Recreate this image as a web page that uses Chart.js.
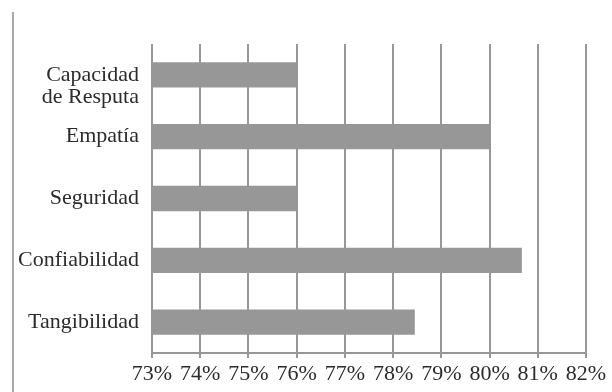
<!DOCTYPE html>
<html>
<head>
<meta charset="utf-8">
<script src="https://cdn.jsdelivr.net/npm/chart.js@4.4.1/dist/chart.umd.min.js"></script>
<style>
html,body{margin:0;padding:0;background:#fff;}
#wrap{position:absolute;left:0;top:0;width:612px;height:392px;}
#edge{position:absolute;left:12px;top:12px;width:2px;height:380px;background:#aaa;}
</style>
</head>
<body>
<div id="wrap"><canvas id="c" width="612" height="392"></canvas></div>
<div id="edge"></div>
<script>
const categories = [["", "Capacidad", "de Resputa"], "Empatía", "Seguridad", "Confiabilidad", "Tangibilidad"];
const values = [76, 80, 76, 80.67, 78.45];
const tickMin = 73;
const tickMax = 82;

const gray = '#979797';
const textColor = '#2b2b2b';
const font = {family: '"Liberation Serif", "Times New Roman", serif', size: 22, lineHeight: 1.0};

new Chart(document.getElementById('c'), {
  type: 'bar',
  data: {
    labels: categories,
    datasets: [{
      data: values,
      backgroundColor: gray,
      borderWidth: 0,
      categoryPercentage: 1,
      barPercentage: 0.41
    }]
  },
  options: {
    indexAxis: 'y',
    responsive: false,
    animation: false,
    layout: {padding: {top: 44, right: 26, left: 0, bottom: 0}},
    plugins: {legend: {display: false}, tooltip: {enabled: false}},
    scales: {
      x: {
        min: tickMin,
        max: tickMax,
        ticks: {
          stepSize: 1,
          color: textColor,
          font: font,
          padding: 5,
          maxRotation: 0,
          autoSkip: false,
          callback: v => v + '%'
        },
        grid: {color: gray, lineWidth: 2, tickLength: 5, drawTicks: true},
        border: {display: true, color: gray, width: 2},
        afterFit: s => { s.height = 39; s.paddingLeft = 0; s.paddingRight = 0; }
      },
      y: {
        ticks: {color: textColor, font: font, padding: 13, autoSkip: false},
        grid: {display: false, drawTicks: false},
        border: {display: false},
        afterFit: s => { s.width = 152; s.paddingTop = 0; s.paddingBottom = 0; }
      }
    }
  }
});
</script>
</body>
</html>
